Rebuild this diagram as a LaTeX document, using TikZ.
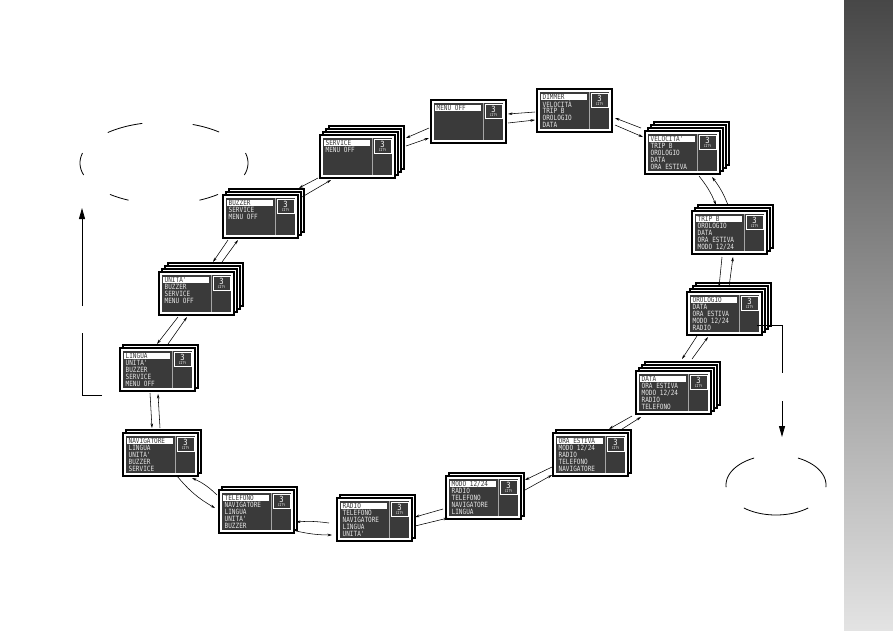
\documentclass[tikz,border=0pt]{standalone}
\usepackage{fontspec}
\newfontfamily\lcd[FakeStretch=0.84]{DejaVu Sans Mono}
\usetikzlibrary{arrows.meta}
\definecolor{lcdbg}{HTML}{3A3A3A}
\definecolor{lcdfg}{HTML}{E6E6E6}
\definecolor{stripT}{HTML}{474747}
\definecolor{stripB}{HTML}{E3E3E3}
\tikzset{
 screen/.style={draw=black, fill=white, line width=1.1pt, minimum width=75pt, minimum height=43pt, inner sep=0pt, outer sep=0pt, anchor=north west, rectangle},
 backlayer/.style={draw=black, fill=white, line width=1.1pt},
 item/.style={text=lcdfg, font=\lcd\fontsize{7.2}{8}\selectfont, anchor=west, inner sep=0pt},
 hitem/.style={item, text=lcdbg},
 nav/.style={-{Stealth[length=4.5pt,width=2.6pt]}, line width=0.55pt},
 link/.style={line width=0.9pt},
 bigarr/.style={-{Triangle[length=11pt,width=6pt]}, line width=0.9pt},
 outline/.style={line width=0.8pt},
}
\newcommand\nw[3]{([shift={(#2,#3)}]#1.north west)}
\newcommand\scr[5]{%
  \ifnum#4>2 \draw[backlayer] (#2+9,#3-9) rectangle ++(75,43);\fi
  \ifnum#4>1 \draw[backlayer] (#2+6,#3-6) rectangle ++(75,43);\fi
  \ifnum#4>0 \draw[backlayer] (#2+3,#3-3) rectangle ++(75,43);\fi
  \node[screen] (#1) at (#2,#3) {};
  \fill[lcdbg] \nw{#1}{3}{3} rectangle ([shift={(-3,-3)}]#1.south east);
  \draw[gray!70, line width=0.5pt] \nw{#1}{52}{3} -- \nw{#1}{52}{40};
  \draw[white, line width=0.7pt] \nw{#1}{54}{4.5} rectangle \nw{#1}{71}{18.5};
  \node[font=\lcd\fontsize{8.5}{8.5}\selectfont, text=white, inner sep=0pt] at \nw{#1}{62.5}{9.8} {3};
  \node[font=\lcd\fontsize{3.6}{3.6}\selectfont, text=white, inner sep=0pt] at \nw{#1}{62.5}{15.6} {CITY};
  \fill[white] \nw{#1}{4}{4.5} rectangle \nw{#1}{50}{11.2};
  \foreach \t [count=\i] in {#5} {%
    \ifnum\i=1 \node[hitem] at \nw{#1}{5.5}{7.9} {\t};%
    \else \node[item] at \nw{#1}{5.5}{7.9+7.1*(\i-1)} {\t};\fi
  }%
}
\begin{document}
\begin{tikzpicture}[x=1pt,y=-1pt]
\useasboundingbox (0,0) rectangle (893,630);
\fill[white] (0,0) rectangle (893,630);
\shade[top color=stripT, bottom color=stripB] (844,0) rectangle (893,630);

% screens
\scr{s1}{431}{100}{0}{MENU OFF}
\scr{s2}{537}{89}{0}{DIMMER,VELOCITÀ,TRIP B,OROLOGIO,DATA}
\scr{s3}{645}{131}{3}{VELOCITA',TRIP B,OROLOGIO,DATA,ORA ESTIVA}
\scr{s4}{692}{211}{2}{TRIP B,OROLOGIO,DATA,ORA ESTIVA,MODO 12/24}
\scr{s5}{687}{292}{3}{OROLOGIO,DATA,ORA ESTIVA,MODO 12/24,RADIO}
\scr{s6}{636}{371}{3}{DATA,ORA ESTIVA,MODO 12/24,RADIO,TELEFONO}
\scr{s7}{553}{433}{1}{ORA ESTIVA,MODO 12/24,RADIO,TELEFONO,NAVIGATORE}
\scr{s8}{446}{476}{1}{MODO 12/24,RADIO,TELEFONO,NAVIGATORE,LINGUA}
\scr{s9}{337}{498}{1}{RADIO,TELEFONO,NAVIGATORE,LINGUA,UNITA'}
\scr{s10}{219}{490}{1}{TELEFONO,NAVIGATORE,LINGUA,UNITA',BUZZER}
\scr{s11}{123}{433}{1}{NAVIGATORE,LINGUA,UNITA',BUZZER,SERVICE}
\scr{s12}{120}{348}{1}{LINGUA,UNITA',BUZZER,SERVICE,MENU OFF}
\scr{s13}{159}{272}{3}{UNITA',BUZZER,SERVICE,MENU OFF}
\scr{s14}{223}{195}{2}{BUZZER,SERVICE,MENU OFF}
\scr{s15}{320}{135}{3}{SERVICE,MENU OFF}

% navigation arrows
\draw[nav] \nw{s2}{-2}{23} -- \nw{s1}{77}{14};
\draw[nav] \nw{s1}{77}{23} -- \nw{s2}{-2}{31};
\draw[nav] \nw{s3}{-4}{-3} -- \nw{s2}{78}{29};
\draw[nav] \nw{s2}{78}{36} -- \nw{s3}{-2}{6};
\draw[nav] ([shift={(54,45)}]s3.north west) to[bend left=8] ([shift={(24,-6)}]s4.north west);
\draw[nav] ([shift={(36,-6)}]s4.north west) to[bend right=8] ([shift={(67,46)}]s3.north west);
\draw[nav] \nw{s4}{30}{46} -- \nw{s5}{32}{-5};
\draw[nav] \nw{s5}{42}{-5} -- \nw{s4}{41}{46};
\draw[nav] \nw{s5}{10}{44} -- \nw{s6}{46}{-12};
\draw[nav] \nw{s6}{56}{-12} -- \nw{s5}{21}{45};
\draw[nav] \nw{s6}{-4}{45} -- \nw{s7}{56}{-4};
\draw[nav] \nw{s7}{66}{-2} -- \nw{s6}{5}{46};
\draw[nav] \nw{s7}{-1}{34} -- \nw{s8}{79}{4};
\draw[nav] \nw{s8}{79}{14} -- \nw{s7}{-1}{42};
\draw[nav] \nw{s8}{-3}{33} -- \nw{s9}{78}{19};
\draw[nav] \nw{s9}{78}{28} -- \nw{s8}{2}{42};
\draw[nav] ([shift={(-8,25)}]s9.north west) to[bend right=6] ([shift={(77,32)}]s10.north west);
\draw[nav] ([shift={(77,41)}]s10.north west) to[bend right=6] ([shift={(-5,37)}]s9.north west);
\draw[nav] ([shift={(54,43)}]s11.north west) to[bend right=10] ([shift={(-4,18)}]s10.north west);
\draw[nav] ([shift={(-2,5)}]s10.north west) to[bend right=10] ([shift={(69,45)}]s11.north west);
\draw[nav] \nw{s12}{30}{45} -- \nw{s11}{29}{-5};
\draw[nav] \nw{s11}{37}{-5} -- \nw{s12}{38}{46};
\draw[nav] \nw{s13}{19}{45} -- \nw{s12}{37}{-4};
\draw[nav] \nw{s12}{48}{-4} -- \nw{s13}{28}{45};
\draw[nav] \nw{s14}{5}{45} -- \nw{s13}{54}{-10};
\draw[nav] \nw{s13}{63}{-10} -- \nw{s14}{15}{45};
\draw[nav] \nw{s15}{-2}{43} -- \nw{s14}{76}{-7};
\draw[nav] \nw{s14}{79}{2} -- \nw{s15}{11}{45};
\draw[nav] \nw{s1}{-2}{28} -- \nw{s15}{86}{3};
\draw[nav] \nw{s15}{86}{11} -- \nw{s1}{-2}{38};

% exit connectors
\coordinate (L1) at (102,395);
\coordinate (L2) at (82,395);
\coordinate (L3) at (82,333);
\coordinate (L4) at (82,306);
\coordinate (L5) at (82,208);
\draw[link] (L1) -- (L2) -- (L3);
\draw[bigarr] (L4) -- (L5);
\coordinate (R2) at (782,373);
\coordinate (R3) at (782,401);
\coordinate (R4) at (782,437);
\draw[link] \nw{s5}{70}{33} -| (R2);
\draw[bigarr] (R3) -- (R4);

% broken ellipses
\foreach \a/\b in {105/132, 49/70, 166/197, -17/14, 230/245, 295/310}
  \draw[outline] plot[domain=\a:\b, samples=20, smooth] ({164+84*cos(\x)},{163-41*sin(\x)});
\foreach \a/\b in {116/184, 230/310, -4/64}
  \draw[outline] plot[domain=\a:\b, samples=24, smooth] ({776+50*cos(\x)},{485-30*sin(\x)});
\end{tikzpicture}
\end{document}
